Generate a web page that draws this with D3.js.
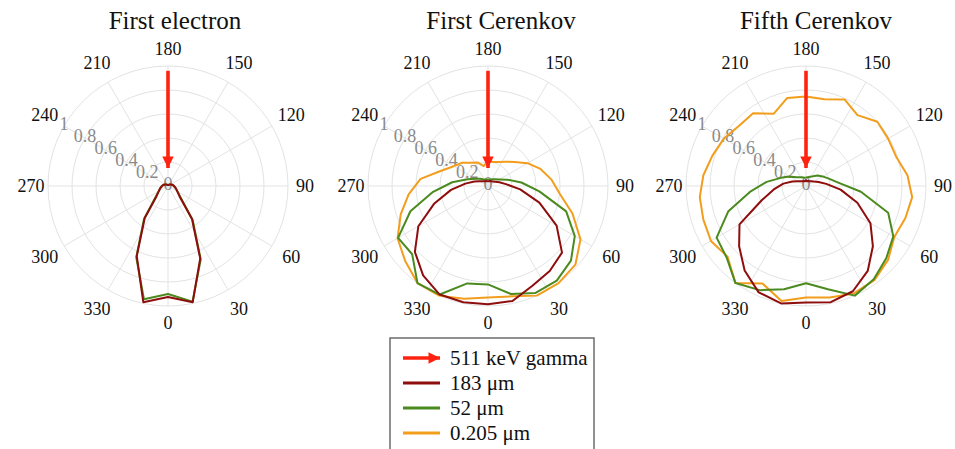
<!DOCTYPE html>
<html>
<head>
<meta charset="utf-8">
<script src="https://cdn.jsdelivr.net/npm/d3@7"></script>
<style>
  body { margin: 0; background: #fff; }
  text { font-family: "Liberation Serif", "DejaVu Serif", serif; }
</style>
</head>
<body>
<script>
// chart data, angles in degrees (0 at bottom), radii normalised to 1
var titles = ["First electron", "First Cerenkov", "Fifth Cerenkov"];
var seriesNames = ["183 \u03bcm", "52 \u03bcm", "0.205 \u03bcm"];
var angles = [0, 12, 24, 36, 48, 60, 72, 84, 96, 108, 120, 132, 144, 156, 168,
              180, 192, 204, 216, 228, 240, 252, 264, 276, 288, 300, 312, 324, 336, 348];
var angleTicks = [0, 30, 60, 90, 120, 150, 180, 210, 240, 270, 300, 330];
var radialTicks = [0, 0.2, 0.4, 0.6, 0.8, 1];

var electron183 = [0.925, 0.99, 0.66, 0.34, 0.13, 0.09, 0.07, 0.055, 0.045, 0.035, 0.025, 0.018, 0.012, 0.01, 0.008,
                   0.008, 0.008, 0.01, 0.012, 0.018, 0.025, 0.035, 0.045, 0.055, 0.07, 0.09, 0.13, 0.33, 0.64, 0.99];
var electron52 = [0.90, 0.985, 0.67, 0.35, 0.14, 0.09, 0.07, 0.055, 0.045, 0.035, 0.025, 0.018, 0.012, 0.01, 0.008,
                  0.008, 0.008, 0.01, 0.012, 0.018, 0.025, 0.035, 0.045, 0.055, 0.07, 0.09, 0.14, 0.34, 0.65, 0.965];

var first183 = [0.985, 0.98, 0.91, 0.875, 0.83, 0.66, 0.45, 0.27, 0.15, 0.10, 0.07, 0.055, 0.05, 0.045, 0.04,
                0.04, 0.04, 0.045, 0.05, 0.06, 0.08, 0.12, 0.19, 0.31, 0.47, 0.67, 0.82, 0.92, 0.99, 0.99];
var first52 = [0.82, 0.92, 0.975, 0.975, 0.93, 0.835, 0.685, 0.43, 0.28, 0.17, 0.11, 0.085, 0.07, 0.06, 0.055,
               0.055, 0.055, 0.06, 0.07, 0.09, 0.12, 0.18, 0.30, 0.46, 0.68, 0.865, 0.85, 1.0, 0.99, 0.83];
var first205 = [0.93, 0.94, 1.0, 1.0, 0.98, 0.89, 0.74, 0.60, 0.53, 0.46, 0.38, 0.30, 0.25, 0.22, 0.205,
                0.21, 0.17, 0.215, 0.24, 0.29, 0.33, 0.41, 0.565, 0.665, 0.765, 0.87, 0.93, 1.0, 1.0, 0.96];

var fifth183 = [0.97, 0.99, 0.96, 0.875, 0.75, 0.62, 0.45, 0.29, 0.17, 0.11, 0.075, 0.06, 0.05, 0.045, 0.04,
                0.05, 0.04, 0.045, 0.05, 0.06, 0.08, 0.12, 0.19, 0.27, 0.39, 0.64, 0.75, 0.87, 0.97, 1.0];
var fifth52 = [0.81, 0.88, 1.0, 0.96, 0.90, 0.84, 0.72, 0.46, 0.27, 0.20, 0.16, 0.13, 0.10, 0.085, 0.075,
               0.07, 0.07, 0.08, 0.09, 0.11, 0.16, 0.22, 0.33, 0.47, 0.68, 0.86, 0.89, 1.0, 0.95, 0.88];
var fifth205 = [0.93, 0.95, 0.98, 0.97, 0.92, 0.85, 0.87, 0.89, 0.85, 0.79, 0.79, 0.80, 0.73, 0.79, 0.74,
                0.745, 0.75, 0.66, 0.75, 0.75, 0.79, 0.82, 0.86, 0.89, 0.90, 0.915, 0.88, 1.0, 0.89, 0.98];

// per chart: [183, 52, 0.205] (null = not drawn)
var chartSeries = [
    [electron183, electron52, null],
    [first183, first52, first205],
    [fifth183, fifth52, fifth205]
];

var colors = ["#8e0d0d", "#4b8a1f", "#f29d1c"];
var arrowColor = "#ff2210";
var arrowFrom = 0.96, arrowTo = 0.15;

var W = 955, H = 449;
var centersX = [168, 488, 806];
var centerY = 186;
var titleX = [175, 501, 816];
var R = 120;

var svg = d3.select("body").append("svg")
    .attr("width", W)
    .attr("height", H);

svg.append("defs").append("marker")
    .attr("id", "head")
    .attr("viewBox", "0 0 10 10")
    .attr("refX", 10).attr("refY", 5)
    .attr("markerWidth", 3.2).attr("markerHeight", 3.2)
    .attr("markerUnits", "strokeWidth")
    .attr("orient", "auto")
  .append("path")
    .attr("d", "M0,0L10,5L0,10z")
    .attr("fill", arrowColor);

var rScale = d3.scaleLinear().domain([0, 1]).range([0, R]);
// 0 deg points down, 90 deg points right
var aScale = d3.scaleLinear().domain([0, 360]).range([Math.PI, -Math.PI]);

var px = function(deg, r) { return rScale(r) * Math.sin(aScale(deg)); };
var py = function(deg, r) { return -rScale(r) * Math.cos(aScale(deg)); };

var line = d3.lineRadial()
    .angle(function(d) { return aScale(d[0]); })
    .radius(function(d) { return rScale(d[1]); })
    .curve(d3.curveLinearClosed);

titles.forEach(function(title, ci) {
    var g = svg.append("g")
        .attr("transform", "translate(" + centersX[ci] + "," + centerY + ")");

    svg.append("text")
        .attr("x", titleX[ci]).attr("y", 29)
        .attr("text-anchor", "middle")
        .attr("font-size", 25)
        .attr("fill", "#111")
        .text(title);

    // grid
    g.selectAll(".ring").data(radialTicks.slice(1)).enter().append("circle")
        .attr("r", function(d) { return rScale(d); })
        .attr("fill", "none")
        .attr("stroke", "#e3e3e3")
        .attr("stroke-width", 1);

    g.selectAll(".spoke").data(angleTicks).enter().append("line")
        .attr("x1", 0).attr("y1", 0)
        .attr("x2", function(d) { return px(d, 1); })
        .attr("y2", function(d) { return py(d, 1); })
        .attr("stroke", "#e3e3e3")
        .attr("stroke-width", 1);

    g.selectAll(".alab").data(angleTicks).enter().append("text")
        .attr("x", function(d) { return px(d, (137 + 6 * Math.abs(Math.sin(d * Math.PI / 90))) / R); })
        .attr("y", function(d) { return py(d, (137 + 6 * Math.abs(Math.sin(d * Math.PI / 90))) / R); })
        .attr("text-anchor", "middle")
        .attr("dominant-baseline", "central")
        .attr("font-size", 18)
        .attr("fill", "#111")
        .text(function(d) { return d; });

    g.selectAll(".rlab").data(radialTicks).enter().append("text")
        .attr("x", function(d) { return px(240, d); })
        .attr("y", function(d) { return py(240, d) - 2; })
        .attr("text-anchor", "middle")
        .attr("dominant-baseline", "central")
        .attr("font-size", 18)
        .attr("fill", "#8a8a8a")
        .text(function(d) { return d; });

    // series: orange below, red on top
    [2, 1, 0].forEach(function(si) {
        var vals = chartSeries[ci][si];
        if (!vals) return;
        g.append("path")
            .datum(angles.map(function(a, i) { return [a, vals[i]]; }))
            .attr("d", line)
            .attr("fill", "none")
            .attr("stroke", colors[si])
            .attr("stroke-width", 2)
            .attr("stroke-linejoin", "round");
    });

    // incoming gamma arrow
    g.append("line")
        .attr("x1", px(180, arrowFrom)).attr("y1", py(180, arrowFrom))
        .attr("x2", px(180, arrowTo)).attr("y2", py(180, arrowTo))
        .attr("stroke", arrowColor)
        .attr("stroke-width", 3.6)
        .attr("marker-end", "url(#head)");
});

// legend
var lg = svg.append("g").attr("transform", "translate(390,338)");
lg.append("rect")
    .attr("x", 0).attr("y", 0)
    .attr("width", 204).attr("height", 130)
    .attr("fill", "#fff")
    .attr("stroke", "#555")
    .attr("stroke-width", 1.3);

var legendItems = ["511 keV gamma"].concat(seriesNames);
legendItems.forEach(function(name, i) {
    var y = 20 + i * 25;
    if (i == 0) {
        lg.append("line")
            .attr("x1", 13).attr("y1", y).attr("x2", 50).attr("y2", y)
            .attr("stroke", arrowColor)
            .attr("stroke-width", 3.6)
            .attr("marker-end", "url(#head)");
    } else {
        lg.append("line")
            .attr("x1", 13).attr("y1", y).attr("x2", 50).attr("y2", y)
            .attr("stroke", colors[i - 1])
            .attr("stroke-width", 3);
    }
    lg.append("text")
        .attr("x", 60).attr("y", y)
        .attr("dominant-baseline", "central")
        .attr("font-size", 21)
        .attr("fill", "#111")
        .text(name);
});
</script>
</body>
</html>
